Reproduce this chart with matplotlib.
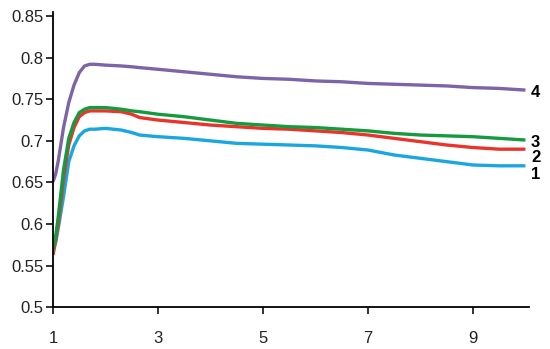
import matplotlib
matplotlib.use("Agg")
import matplotlib.pyplot as plt

# shared x grid
x = [1, 1.05, 1.1, 1.2, 1.3, 1.4, 1.5, 1.6, 1.7, 1.8, 2.0, 2.3, 2.5, 2.65, 3.0,
     3.5, 4.0, 4.5, 5.0, 5.5, 6.0, 6.5, 7.0, 7.5, 8.0, 8.5, 9.0, 9.5, 10]

s1 = [0.567, 0.578, 0.595, 0.633, 0.675, 0.694, 0.706, 0.712, 0.714, 0.714,
      0.715, 0.713, 0.710, 0.707, 0.705, 0.703, 0.700, 0.697, 0.696, 0.695,
      0.694, 0.692, 0.689, 0.683, 0.679, 0.675, 0.671, 0.670, 0.670]
s2 = [0.563, 0.580, 0.600, 0.655, 0.695, 0.716, 0.729, 0.734, 0.736, 0.736,
      0.736, 0.735, 0.732, 0.728, 0.725, 0.722, 0.719, 0.717, 0.715, 0.714,
      0.712, 0.710, 0.707, 0.703, 0.699, 0.695, 0.692, 0.690, 0.690]
s3 = [0.569, 0.585, 0.609, 0.665, 0.703, 0.722, 0.734, 0.738, 0.740, 0.740,
      0.740, 0.738, 0.736, 0.735, 0.732, 0.729, 0.725, 0.721, 0.719, 0.717,
      0.716, 0.714, 0.712, 0.709, 0.707, 0.706, 0.705, 0.703, 0.701]
s4 = [0.651, 0.660, 0.676, 0.716, 0.746, 0.767, 0.782, 0.790, 0.792, 0.792,
      0.791, 0.790, 0.789, 0.788, 0.786, 0.783, 0.780, 0.777, 0.775, 0.774,
      0.772, 0.771, 0.769, 0.768, 0.767, 0.766, 0.764, 0.763, 0.761]

labels = ["1", "2", "3", "4"]
colors = ["#1ba6e0", "#e8352b", "#159a3f", "#7d63a8"]
x_ticks = [1, 3, 5, 7, 9]
y_ticks = [0.5, 0.55, 0.6, 0.65, 0.7, 0.75, 0.8, 0.85]

plt.rcParams["font.family"] = ["Liberation Sans", "DejaVu Sans"]

fig = plt.figure(figsize=(5.5, 3.49), dpi=100)
ax = fig.add_axes([0.0964, 0.1195, 0.8656, 0.8465])

for ys, c, lab in zip([s1, s2, s3, s4], colors, labels):
    ax.plot(x, ys, color=c, lw=2.4, solid_capstyle="butt")
    # labels 1 and 2 sit slightly below their line ends
    ax.annotate(lab, xy=(x[-1], ys[-1]), xytext=(4, -6 if lab in ("1", "2") else -2),
                textcoords="offset points", ha="left", va="center",
                fontsize=12, fontweight="bold", annotation_clip=False)

ax.set_xlim(1, 10.07)
ax.set_ylim(0.5, 0.855)
ax.set_xticks(x_ticks)
ax.set_xticklabels([str(t) for t in x_ticks])
ax.set_yticks(y_ticks)
ax.set_yticklabels(["0.5", "0.55", "0.6", "0.65", "0.7", "0.75", "0.8", "0.85"])

for side in ("top", "right"):
    ax.spines[side].set_visible(False)
for side in ("left", "bottom"):
    ax.spines[side].set_linewidth(1.3)
ax.tick_params(axis="both", direction="out", length=5, width=1.3, labelsize=12,
               colors="#222222")
ax.tick_params(axis="x", pad=12)
ax.tick_params(axis="y", pad=2)

fig.savefig("out.png", dpi=100)
